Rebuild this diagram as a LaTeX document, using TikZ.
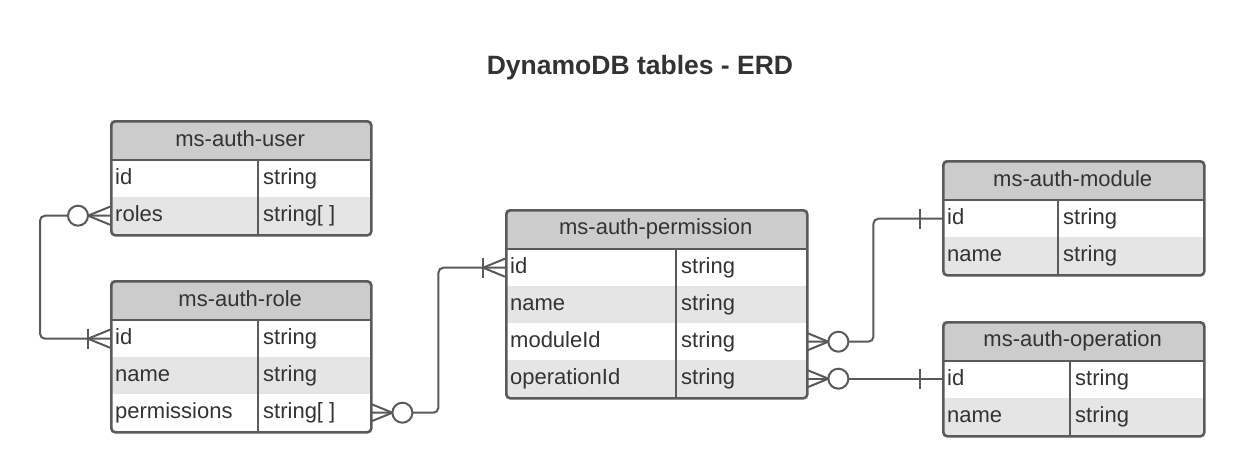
\documentclass[tikz,border=0pt]{standalone}
\usepackage{fontspec}
\setmainfont{Liberation Sans}
\usetikzlibrary{calc}
\definecolor{hdrgray}{HTML}{CCCCCC}
\definecolor{rowgray}{HTML}{E5E5E5}
\definecolor{bordergray}{HTML}{5A5A5A}
\definecolor{txtgray}{HTML}{333333}
\tikzset{
  hdr/.style={fill=hdrgray, minimum height=40pt, inner sep=0pt, text=txtgray, font=\fontsize{22}{26}\selectfont},
  rowbox/.style={minimum height=37pt, inner sep=0pt, draw=none},
  celltext/.style={inner sep=0pt, text=txtgray, font=\fontsize{22}{26}\selectfont},
  frame/.style={draw=bordergray, line width=2.6pt, rounded corners=4pt, inner sep=0pt},
  border/.style={draw=bordergray, line width=2.6pt},
  conn/.style={draw=bordergray, line width=2pt},
  titletext/.style={text=txtgray, font=\fontsize{26.5}{30}\selectfont\bfseries, inner sep=0pt}
}
% #1 name, #2 left, #3 top, #4 width, #5 divider offset, #6 title, #7 rows, #8 number of rows
\newcommand{\erdtable}[8]{%
  \pgfmathsetmacro\erdbot{#3+40+37*#8}%
  \pgfmathsetmacro\erdh{40+37*#8}%
  \begin{scope}
    \clip[rounded corners=4pt] (#2,#3) rectangle (#2+#4,\erdbot);
    \node[hdr, minimum width=#4pt, anchor=north west] (#1-head) at (#2,#3) {\raisebox{2.5pt}{#6}};
    \foreach \f/\t [count=\i] in {#7} {
      \pgfmathsetmacro\rowtop{#3+40+37*(\i-1)}
      \pgfmathtruncatemacro\odd{mod(\i,2)}
      \ifnum\odd=1 \def\rowfill{white}\else\def\rowfill{rowgray}\fi
      \node[rowbox, fill=\rowfill, minimum width=#4pt, anchor=north west] (#1-row\i) at (#2,\rowtop) {};
      \node[celltext, anchor=base west] (#1-f\i) at (#2+5,\rowtop+24) {\f};
      \node[celltext, anchor=base west] (#1-t\i) at (#2+#5+5,\rowtop+24) {\t};
    }
  \end{scope}
  \draw[border] (#2+#5,#3+40) -- (#2+#5,\erdbot);
  \draw[border] (#2,#3+40) -- (#2+#4,#3+40);
  \node[frame, minimum width=#4pt, minimum height=\erdh pt, anchor=north west] (#1) at (#2,#3) {};
}
\newcommand{\erdcrow}[2]{\draw[conn] ($(#1)+(0,-9)$) -- ($(#1)+(#2*22,0)$) -- ($(#1)+(0,9)$);}
\newcommand{\erdcircle}[2]{\draw[conn,fill=white] ($(#1)+(#2*32,0)$) circle[radius=10pt];}
\newcommand{\erdbar}[2]{\draw[conn] ($(#1)+(#2*22,-10)$) -- ($(#1)+(#2*22,10)$);}
\begin{document}
\begin{tikzpicture}[x=1pt,y=-1pt]
\fill[white] (0,0) rectangle (1243,474);
\useasboundingbox (0,0) rectangle (1243,474);
\node[titletext] (title) at (640,68) {DynamoDB tables - ERD};

\erdtable{user}{110}{120}{260}{148}{ms-auth-user}{id/string, roles/string[ ]}{2}
\erdtable{role}{110}{280}{260}{148}{ms-auth-role}{id/string, name/string, permissions/string[ ]}{3}
\erdtable{perm}{505}{209}{301}{171}{ms-auth-permission}{id/string, name/string, moduleId/string, operationId/string}{4}
\erdtable{mod}{942}{160}{261}{116}{ms-auth-module}{id/string, name/string}{2}
\erdtable{op}{942}{321}{261}{128}{ms-auth-operation}{id/string, name/string}{2}

% user.roles  -> role.id
\draw[conn, rounded corners=5pt] (user-row2.west) -- ++(-70,0) |- (role-row1.west);
\erdcrow{user-row2.west}{-1}
\erdcircle{user-row2.west}{-1}
\erdcrow{role-row1.west}{-1}
\erdbar{role-row1.west}{-1}

% role.permissions -> permission.id
\draw[conn, rounded corners=5pt] (role-row3.east) -- ++(68,0) |- (perm-row1.west);
\erdcrow{role-row3.east}{1}
\erdcircle{role-row3.east}{1}
\erdcrow{perm-row1.west}{-1}
\erdbar{perm-row1.west}{-1}

% permission.moduleId -> module.id
\draw[conn, rounded corners=5pt] (perm-row3.east) -- ++(67,0) |- (mod-row1.west);
\erdcrow{perm-row3.east}{1}
\erdcircle{perm-row3.east}{1}
\erdbar{mod-row1.west}{-1}

% permission.operationId -> operation.id
\coordinate (opin) at (perm-row4.east -| op-row1.west);
\draw[conn] (perm-row4.east) -- (opin);
\erdcrow{perm-row4.east}{1}
\erdcircle{perm-row4.east}{1}
\erdbar{opin}{-1}
\end{tikzpicture}
\end{document}
